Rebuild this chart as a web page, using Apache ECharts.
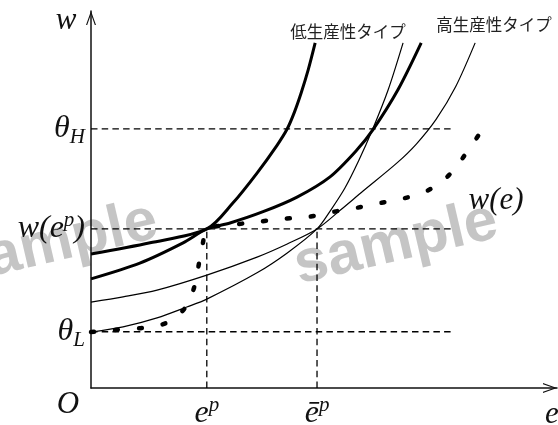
<!DOCTYPE html>
<html><head><meta charset="utf-8">
<script src="https://cdn.jsdelivr.net/npm/echarts@6/dist/echarts.min.js"></script>
<style>html,body{margin:0;padding:0;background:#fff}#c{width:558px;height:425px}</style>
</head><body><div id="c"></div>
<script>
// key levels (abstract units: e on 0..100, w on 0..100)
const thetaH = 69.1, wEp = 42.4, thetaL = 15.0, eP = 24.9, eBar = 48.6, guideEnd = 77.6;
const xMax = 100.2, yMax = 100.5;
// indifference curves
const lowTypeThick = [[0,35.7],[12.7,38.7],[24.9,42.4],[30.5,49.3],[35.7,57.3],[40.0,64.7],[42.2,69.1],[43.7,73.4],[45.2,78.7],[46.7,84.8],[48.2,92.0]];
const highTypeThick = [[0,29.1],[10.5,33.3],[19.8,38.7],[24.9,42.4],[29.9,44.0],[37.0,47.0],[44.3,50.9],[51.4,56.3],[57.2,63.5],[60.6,68.8],[66.0,79.5],[71.0,92.0]];
const lowTypeThin = [[0,14.9],[6.9,16.3],[14.2,18.7],[20.6,21.6],[24.9,23.7],[35.7,30.7],[42.2,36.0],[48.6,42.4],[51.6,47.5],[54.6,53.3],[57.6,60.7],[60.6,69.1],[63.9,79.5],[67.1,92.0]];
const highTypeThin = [[0,22.9],[6.9,24.3],[14.2,26.1],[24.9,30.1],[35.7,34.9],[42.2,38.4],[48.6,42.4],[53.5,47.3],[58.5,52.5],[65.8,60.0],[70.0,65.1],[74.2,71.6],[78.4,80.3],[82.6,92.0]];
// wage schedule w(e)
const wageSchedule = [[0,14.9],[5.6,15.5],[11.0,16.0],[16.1,17.3],[20.2,21.3],[22.2,26.9],[23.2,33.1],[24.1,38.9],[24.9,42.4],[30.5,43.5],[35.9,44.3],[41.3,45.1],[46.7,45.6],[51.8,46.9],[57.0,48.0],[62.2,49.3],[67.1,50.5],[72.3,52.6],[76.6,56.3],[79.8,61.1],[83.4,67.5]];
const labelLow = '低生産性タイプ', labelHigh = '高生産性タイプ';

const MATH = 'Liberation Serif';
const rich = {
  m: {fontFamily: MATH, fontStyle: 'italic', fontSize: 32, color: '#111', lineHeight: 38},
  sup: {fontFamily: MATH, fontStyle: 'italic', fontSize: 21, color: '#111', lineHeight: 17, verticalAlign: 'top'},
  sub: {fontFamily: MATH, fontStyle: 'italic', fontSize: 21, color: '#111', lineHeight: 21, verticalAlign: 'bottom'}
};
const arrowPath = 'path://M5,0 L10,14 L8.8,14 L5,3.2 L1.2,14 L0,14 Z';
const axisLine = {show: true, onZero: false, lineStyle: {color: '#111', width: 1.5}, symbol: ['none', arrowPath], symbolSize: [10, 14], symbolOffset: [0, -7]};

const chart = echarts.init(document.getElementById('c'), null, {renderer: 'canvas'});
const curve = (data, w) => ({type: 'line', data, smooth: 0.3, symbol: 'none', silent: true,
  lineStyle: {color: '#000', width: w}, z: 3});
const guide = (data) => ({type: 'line', data, symbol: 'none', silent: true,
  lineStyle: {color: '#000', width: 1.3, type: [6.5, 4.2]}, z: 2});
const wm = {font: 'bold 60px "Liberation Sans", Arial, sans-serif', fill: 'rgba(140,140,140,0.5)', align: 'center', verticalAlign: 'middle', text: 'sample'};
const mathText = (text, x, y, align) => ({type: 'text', x, y, z: 10, silent: true,
  style: {text, font: 'italic 31px "' + MATH + '"', fill: '#111', align, verticalAlign: 'middle'}});

chart.setOption({
  animation: false,
  grid: {left: 91, right: 1, top: 11, bottom: 37, outerBoundsMode: 'none', containLabel: false},
  xAxis: {type: 'value', min: 0, max: xMax, axisLine, splitLine: {show: false}, axisTick: {show: false},
    axisLabel: {customValues: [eP, eBar], margin: 7, rich,
      formatter: v => v === eP ? '{m|e}{sup|p}' : (v === eBar ? '{m|ē}{sup|p}' : '')}},
  yAxis: {type: 'value', min: 0, max: yMax, axisLine, splitLine: {show: false}, axisTick: {show: false},
    axisLabel: {customValues: [thetaL, wEp, thetaH], margin: 6, rich,
      formatter: v => v === thetaH ? '{m|θ}{sub|H}' : (v === wEp ? '{m|w(e}{sup|p}{m|)}' : (v === thetaL ? '{m|θ}{sub|L}' : ''))}},
  series: [
    guide([[0, thetaH], [guideEnd, thetaH]]),
    guide([[0, wEp], [guideEnd, wEp]]),
    guide([[0, thetaL], [guideEnd, thetaL]]),
    guide([[eP, 0], [eP, wEp]]),
    guide([[eBar, 0], [eBar, wEp]]),
    curve(lowTypeThick, 3),
    curve(highTypeThick, 3),
    curve(lowTypeThin, 1.2),
    curve(highTypeThin, 1.2),
    {type: 'line', data: wageSchedule, smooth: 0.3, symbol: 'none', silent: true, z: 4,
      lineStyle: {color: '#000', width: 4.5, type: [3, 21], cap: 'round'}}
  ],
  graphic: [
    {type: 'text', x: 396, y: 244, rotation: 0.23, z: 0, silent: true, style: wm},
    {type: 'text', x: 56, y: 244, rotation: 0.23, z: 0, silent: true, style: wm},
    mathText('w', 66, 21, 'center'),
    mathText('O', 68, 405, 'center'),
    mathText('e', 545, 415, 'left'),
    mathText('w(e)', 496, 201, 'center'),
    {type: 'text', x: 348, y: 32, z: 10, silent: true, style: {text: labelLow, font: '16.5px "Noto Sans CJK JP"', fill: '#222', align: 'center', verticalAlign: 'middle'}},
    {type: 'text', x: 494, y: 25, z: 10, silent: true, style: {text: labelHigh, font: '16.5px "Noto Sans CJK JP"', fill: '#222', align: 'center', verticalAlign: 'middle'}}
  ]
});
</script>
</body></html>
